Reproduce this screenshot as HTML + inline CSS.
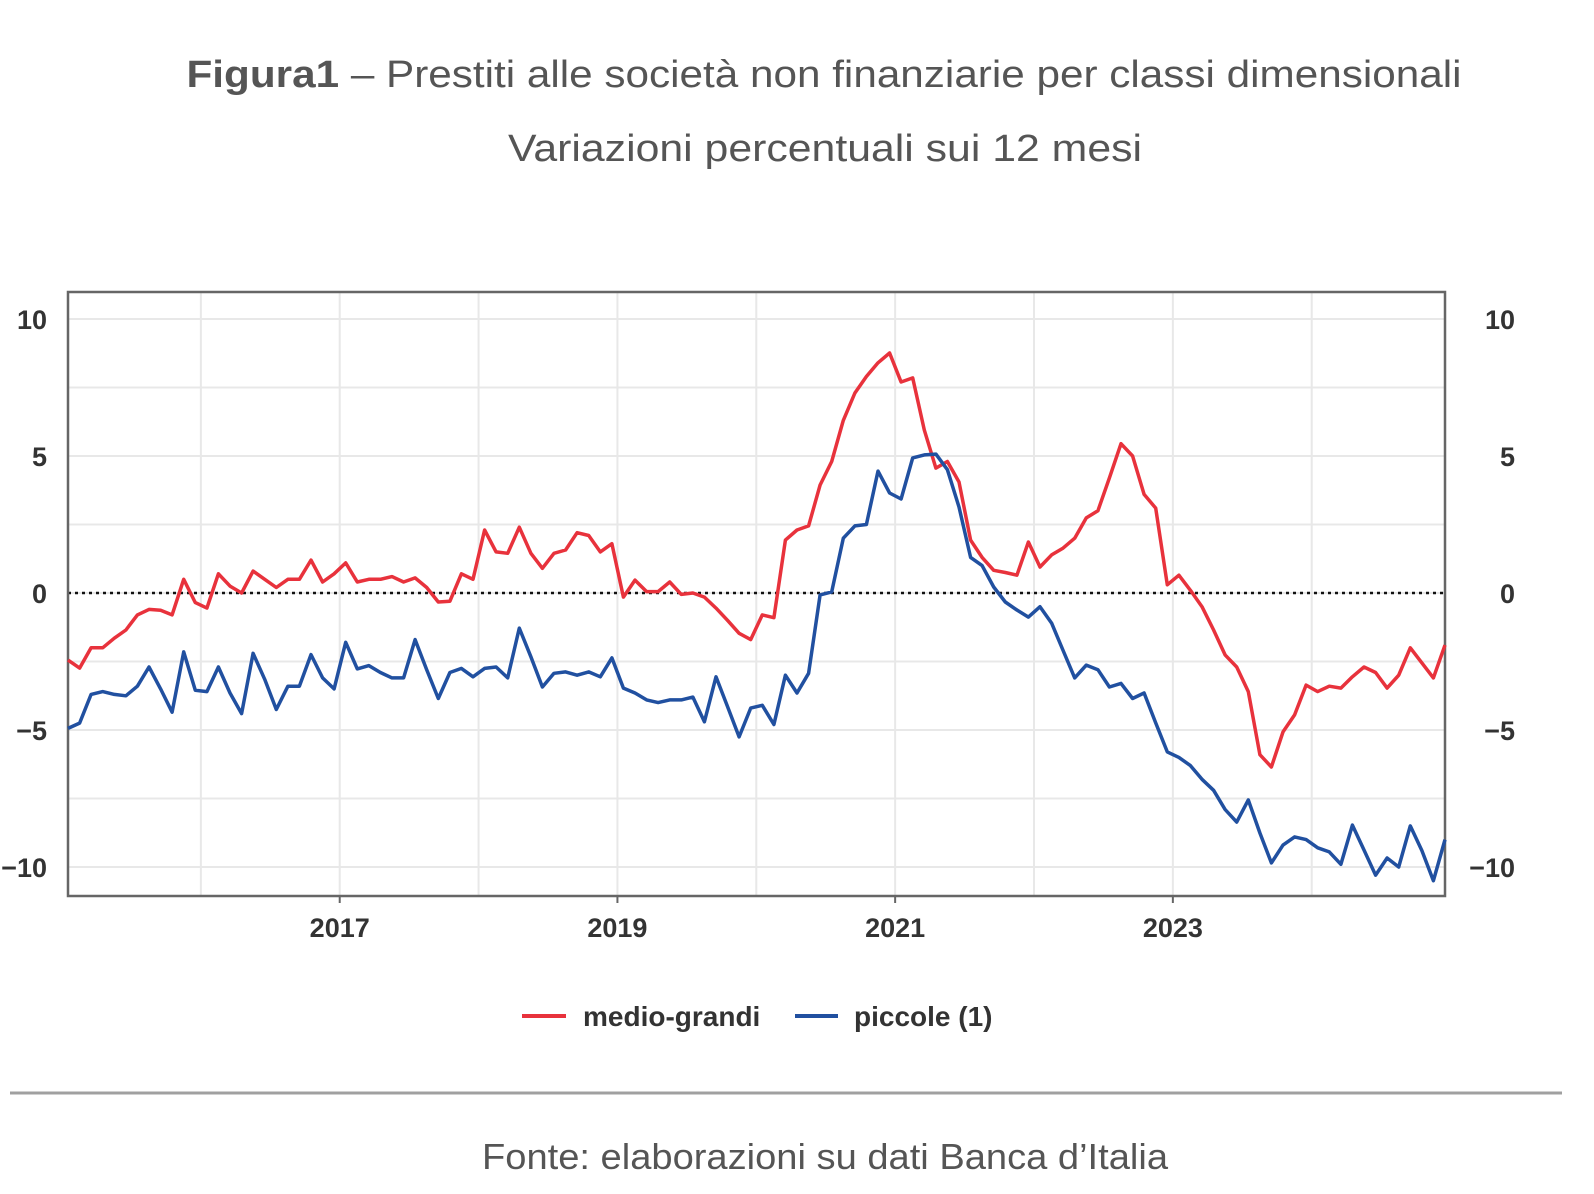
<!DOCTYPE html>
<html><head><meta charset="utf-8"><style>
html,body{margin:0;padding:0;background:#fff;}
svg{display:block;font-family:"Liberation Sans",Arial,sans-serif;}
</style></head><body>
<svg id="chart" width="1594" height="1194" viewBox="0 0 1594 1194">
<text x="824" y="87" text-anchor="middle" font-size="38" fill="#555" textLength="1275" lengthAdjust="spacingAndGlyphs"><tspan font-weight="bold">Figura1</tspan> – Prestiti alle società non finanziarie per classi dimensionali</text>
<text x="825" y="161" text-anchor="middle" font-size="38" fill="#555" textLength="634" lengthAdjust="spacingAndGlyphs">Variazioni percentuali sui 12 mesi</text>
<g id="grid"></g>
<g id="axes"></g>
<g id="series"></g>
<g>
<line x1="522" y1="1016" x2="566" y2="1016" stroke="#e8323c" stroke-width="4"/>
<text x="583" y="1026" font-size="28" fill="#333" font-weight="bold">medio-grandi</text>
<line x1="795" y1="1016" x2="838" y2="1016" stroke="#2150a0" stroke-width="4"/>
<text x="854" y="1026" font-size="28" fill="#333" font-weight="bold">piccole (1)</text>
</g>
<line x1="10" y1="1093" x2="1562" y2="1093" stroke="#a0a0a0" stroke-width="3"/>
<text x="825" y="1169" text-anchor="middle" font-size="36" fill="#555" textLength="686" lengthAdjust="spacingAndGlyphs">Fonte: elaborazioni su dati Banca d’Italia</text>
</svg>
<script>
const yTicks = [10, 5, 0, -5, -10];
const yTickLabels = ["10", "5", "0", "\u22125", "\u221210"];
const xTickYears = [2017, 2019, 2021, 2023];
const startYear = 2015;
const medioGrandi = [-2.45,-2.74,-2.0,-2.0,-1.65,-1.35,-0.8,-0.6,-0.63,-0.8,0.5,-0.35,-0.55,0.7,0.25,0,0.8,0.5,0.2,0.5,0.5,1.2,0.4,0.7,1.1,0.4,0.5,0.5,0.6,0.4,0.55,0.2,-0.33,-0.3,0.7,0.5,2.3,1.5,1.45,2.4,1.45,0.9,1.45,1.57,2.2,2.1,1.5,1.8,-0.15,0.47,0.05,0.05,0.4,-0.05,0,-0.15,-0.55,-1.0,-1.47,-1.7,-0.8,-0.9,1.93,2.3,2.45,3.94,4.8,6.3,7.3,7.9,8.4,8.76,7.7,7.85,5.95,4.56,4.8,4.05,1.93,1.3,0.83,0.75,0.65,1.86,0.95,1.39,1.64,2.0,2.74,3.0,4.2,5.45,5.0,3.6,3.1,0.3,0.65,0.1,-0.5,-1.35,-2.26,-2.7,-3.6,-5.9,-6.35,-5.07,-4.45,-3.36,-3.6,-3.4,-3.47,-3.06,-2.7,-2.9,-3.47,-3.0,-2.0,-2.55,-3.1,-1.9];
const piccole = [-4.94,-4.75,-3.7,-3.6,-3.7,-3.75,-3.4,-2.7,-3.5,-4.35,-2.15,-3.55,-3.6,-2.7,-3.65,-4.4,-2.2,-3.15,-4.25,-3.4,-3.4,-2.25,-3.1,-3.5,-1.8,-2.77,-2.65,-2.9,-3.1,-3.1,-1.7,-2.8,-3.85,-2.9,-2.75,-3.06,-2.75,-2.7,-3.1,-1.28,-2.33,-3.43,-2.93,-2.88,-3.0,-2.88,-3.06,-2.37,-3.47,-3.65,-3.9,-4.0,-3.9,-3.9,-3.8,-4.7,-3.06,-4.15,-5.25,-4.2,-4.1,-4.8,-3.0,-3.65,-2.93,-0.07,0.04,2.0,2.45,2.5,4.45,3.65,3.43,4.93,5.04,5.07,4.5,3.14,1.3,1.0,0.22,-0.33,-0.62,-0.88,-0.5,-1.1,-2.1,-3.1,-2.63,-2.8,-3.43,-3.3,-3.85,-3.65,-4.74,-5.8,-6.0,-6.3,-6.8,-7.2,-7.9,-8.36,-7.55,-8.76,-9.85,-9.2,-8.9,-9.0,-9.3,-9.45,-9.9,-8.47,-9.38,-10.3,-9.67,-10.0,-8.5,-9.4,-10.5,-9.0];

const NS = "http://www.w3.org/2000/svg";
const L = 68, R = 1445, T = 292, B = 896;
function xIdx(i){ return L + i * (R - L) / (medioGrandi.length - 1); }
function xYear(yr){ return L - 6 + (yr - startYear) * 12 * (R - L) / (medioGrandi.length - 1); }
function yv(v){ return 593 - 27.4 * v; }
function mk(tag, attrs, parent){
  const e = document.createElementNS(NS, tag);
  for (const k in attrs) e.setAttribute(k, attrs[k]);
  parent.appendChild(e);
  return e;
}
const grid = document.getElementById('grid');
const axes = document.getElementById('axes');
const series = document.getElementById('series');

for (let v = -10; v <= 10; v += 2.5) {
  const g = mk('line', {x1:L, x2:R, y1:yv(v), y2:yv(v), stroke:'#e8e8e8', 'stroke-width':2}, grid);
  
  
}
for (let yr = 2016; yr <= 2024; yr++) {
  const g = mk('line', {x1:xYear(yr), x2:xYear(yr), y1:T, y2:B, stroke:'#e8e8e8', 'stroke-width':2}, grid);
  
  
}
const zl = mk('line', {x1:L, x2:R, y1:yv(0), y2:yv(0), stroke:'#111', 'stroke-width':2.5, 'stroke-dasharray':'3,4'}, axes);


const fr = mk('rect', {x:L, y:T, width:R-L, height:B-T, fill:'none', stroke:'#666', 'stroke-width':2.5}, axes);



yTicks.forEach((v, k) => {
  const a = mk('text', {x:47, y:yv(v)+10, 'text-anchor':'end', 'font-size':27, 'font-weight':'bold', fill:'#333'}, axes);
  a.textContent = yTickLabels[k];
  
  
  const b = mk('text', {x:1515, y:yv(v)+10, 'text-anchor':'end', 'font-size':27, 'font-weight':'bold', fill:'#333'}, axes);
  b.textContent = yTickLabels[k];
  
  
});
xTickYears.forEach(yr => {
  const x = xYear(yr);
  const t = mk('line', {x1:x, x2:x, y1:B, y2:B+7, stroke:'#666', 'stroke-width':2}, axes);
  
  
  const lab = mk('text', {x:x, y:937, 'text-anchor':'middle', 'font-size':27, 'font-weight':'bold', fill:'#333'}, axes);
  lab.textContent = String(yr);
  
  
});
function drawLine(vals, color, name){
  const d = vals.map((v, i) => (i ? 'L' : 'M') + xIdx(i).toFixed(1) + ',' + yv(v).toFixed(1)).join(' ');
  const p = mk('path', {d:d, fill:'none', stroke:color, 'stroke-width':3.5, 'stroke-linejoin':'round'}, series);
  
  
}
drawLine(medioGrandi, '#e8323c', 'line-medio-grandi');
drawLine(piccole, '#2150a0', 'line-piccole');
</script>
</body></html>
